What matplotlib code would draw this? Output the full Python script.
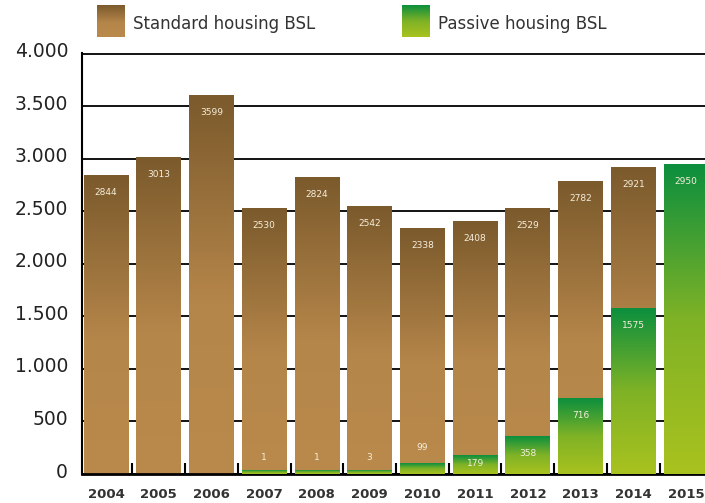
import numpy as np
import matplotlib
matplotlib.use("Agg")
import matplotlib.pyplot as plt
import matplotlib.transforms as mtrans
from matplotlib.colors import LinearSegmentedColormap

years = ["2004", "2005", "2006", "2007", "2008", "2009", "2010", "2011", "2012", "2013", "2014", "2015"]
standard = [2844, 3013, 3599, 2530, 2824, 2542, 2338, 2408, 2529, 2782, 2921, None]
passive = [None, None, None, 1, 1, 3, 99, 179, 358, 716, 1575, 2950]
yticks = [0, 500, 1000, 1500, 2000, 2500, 3000, 3500, 4000]
ytick_labels = ["0", "500", "1.000", "1.500", "2.000", "2.500", "3.000", "3.500", "4.000"]
legend_labels = ["Standard housing BSL", "Passive housing BSL"]

plt.rcParams['font.family'] = ['DejaVu Sans']

brown_cmap = LinearSegmentedColormap.from_list("b", [(0, "#b98a4a"), (0.45, "#b5864a"), (1, "#7b5a2c")])
green_cmap = LinearSegmentedColormap.from_list("g", [(0, "#a9c21f"), (0.5, "#7fb226"), (1, "#0c8f3e")])

fig = plt.figure(figsize=(7.05, 5.03), dpi=100)
ax = fig.add_axes([82/705, 29/503, 1 - 82/705, 421/503])

W = 0.85
grad = np.linspace(0, 1, 256).reshape(-1, 1)
x = np.arange(len(years))

def gradbar(xc, h, cmap, z):
    ax.imshow(grad, extent=(xc - W/2, xc + W/2, 0, h), origin="lower", aspect="auto",
              cmap=cmap, zorder=z, interpolation="bilinear")

dpp = 4000 / 421.0

for i in x:
    s = standard[i]
    p = passive[i]
    if s is not None:
        gradbar(i, s, brown_cmap, 2)
        ax.text(i, s - 17 * dpp, str(s), ha="center", va="center", fontsize=6.5,
                color="#f6eedc", zorder=5)
    if p is not None:
        hp = max(p, 3.5 * dpp)
        gradbar(i, hp, green_cmap, 3)
        if p < 150:
            ly = p + 16 * dpp
        else:
            ly = max(p - 17 * dpp, 11 * dpp)
        ax.text(i, ly, str(p), ha="center", va="center", fontsize=6.5,
                color="#f6eedc", zorder=5)

ax.set_xlim(-0.455, 11.36)
ax.set_ylim(0, 4008)

ax.set_yticks(yticks)
ax.set_yticklabels(ytick_labels, fontsize=13.5, color="#222222")
ax.tick_params(axis="y", length=0, pad=10)

ax.set_xticks(x)
ax.set_xticklabels(years, fontsize=9.5, fontweight="bold", color="#333333")
ax.tick_params(axis="x", which="major", length=0, pad=10)
ax.set_xticks(x[:-1] + 0.5, minor=True)
ax.tick_params(axis="x", which="minor", direction="in", length=8, width=1.5, color="black")

ax.grid(axis="y", color="black", linewidth=1.3, zorder=0)
ax.set_axisbelow(True)
for sp in ["top", "right"]:
    ax.spines[sp].set_visible(False)
ax.spines["left"].set_linewidth(1.5)
ax.spines["bottom"].set_linewidth(2)

off = mtrans.ScaledTranslation(0, 4/100, fig.dpi_scale_trans)
for lab in ax.get_yticklabels():
    lab.set_transform(lab.get_transform() + off)

leg_specs = [(97, brown_cmap, legend_labels[0]), (402, green_cmap, legend_labels[1])]
for px, cmap, lab in leg_specs:
    lax = fig.add_axes([px/705, (503-37)/503, 28/705, 32/503])
    lax.imshow(grad, origin="lower", aspect="auto", cmap=cmap, extent=(0, 1, 0, 1))
    lax.axis("off")
    fig.text((px + 36)/705, (503-24)/503, lab, fontsize=12, color="#333333",
             ha="left", va="center")

fig.savefig("out.png", dpi=100)
